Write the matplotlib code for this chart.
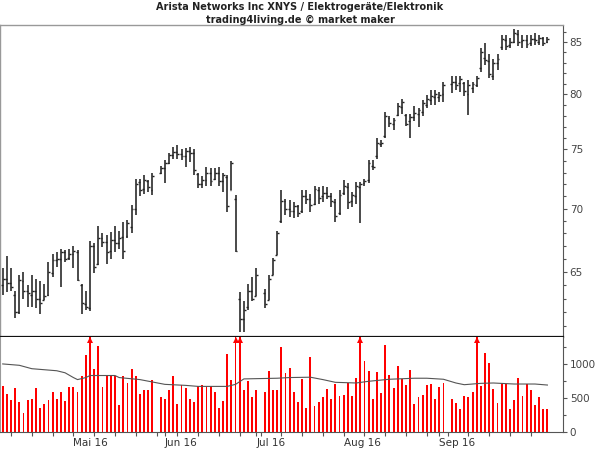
import numpy as np
import pandas as pd
import matplotlib
matplotlib.use('Agg')
import matplotlib.pyplot as plt
from matplotlib.ticker import FixedLocator, NullFormatter

# trading days (weekdays without US holidays)
first_day = '2016-04-07'
last_day = '2016-10-07'
holidays = ['2016-05-30', '2016-07-04', '2016-09-05']

highs = [65.3, 66.2, 65.3, 63.6, 64.8, 65.0, 64.0, 64.8, 64.5, 64.3, 64.1, 65.8, 66.4, 66.5, 66.8, 66.7,
         66.8, 67.0, 66.7, 64.1, 63.6, 67.4, 67.2, 68.6, 68.0, 67.9, 68.1, 68.6, 68.2, 68.9, 69.1, 70.3,
         72.5, 72.5, 72.8, 72.4, 73.0,
         73.6, 74.1, 74.7, 75.2, 75.4, 75.0, 75.1, 75.2, 75.0, 73.0, 72.7, 73.5, 73.4, 73.4, 73.5, 73.0,
         72.8, 74.0, 71.1, 63.5, 62.8, 64.1, 64.6, 65.3,
         63.7, 64.8, 66.1, 68.2, 71.5, 70.8, 70.7, 70.5, 70.3, 71.5, 71.5, 71.2, 71.9, 71.8, 71.9, 71.8,
         71.3, 70.8, 71.5, 72.4, 72.1, 71.4, 72.2, 72.2, 72.5, 74.1, 74.1, 76.0, 75.8, 78.4, 78.0, 77.8,
         79.2, 79.6, 78.2, 78.2, 78.9, 78.7, 79.5, 79.9, 80.4, 80.4, 80.2, 81.2,
         81.7, 81.7, 81.7, 81.2, 81.3, 81.2, 81.7, 84.4, 84.9, 83.9, 83.4, 83.9, 85.7, 85.7, 85.4, 86.3,
         86.2, 85.7, 85.7, 85.7, 85.9, 85.7, 85.5, 85.5]
lows = [63.3, 63.5, 63.6, 61.6, 61.9, 63.0, 62.4, 62.4, 62.3, 61.9, 62.9, 63.2, 64.6, 65.4, 63.9, 65.8,
        65.9, 65.3, 64.3, 61.9, 62.2, 62.1, 64.9, 65.5, 66.9, 65.6, 66.0, 66.5, 66.8, 66.0, 67.6, 68.0,
        69.5, 71.0, 71.2, 71.4, 71.1,
        72.9, 72.1, 73.7, 74.2, 74.2, 74.1, 73.5, 73.9, 72.8, 71.7, 71.7, 71.9, 71.9, 72.4, 71.9, 71.4,
        69.7, 71.5, 66.5, 60.6, 60.6, 62.2, 62.8, 63.2,
        62.3, 62.9, 64.8, 66.3, 68.8, 69.5, 69.3, 69.2, 69.3, 69.6, 70.4, 69.7, 70.3, 70.4, 70.5, 70.8,
        70.1, 68.9, 69.5, 71.1, 70.0, 70.1, 70.4, 68.8, 71.9, 72.1, 73.2, 74.2, 75.2, 76.0, 77.0, 76.7,
        78.0, 78.2, 77.1, 76.0, 77.5, 77.0, 78.0, 78.7, 79.0, 79.0, 79.3, 79.3,
        80.1, 80.4, 80.2, 79.8, 78.1, 80.1, 80.7, 82.1, 82.8, 81.5, 81.3, 82.3, 84.2, 84.2, 84.4, 84.9,
        84.6, 84.4, 84.4, 84.6, 84.7, 84.7, 84.6, 84.9]
opens = [64.0, 64.5, 64.2, 63.3, 62.0, 64.3, 63.6, 63.3, 63.6, 63.0, 62.9, 63.3, 64.9, 65.9, 66.0, 66.5,
         66.1, 66.4, 66.5, 64.0, 62.6, 62.3, 67.0, 65.6, 67.6, 67.3, 66.6, 67.5, 67.2, 67.7, 67.8, 68.5,
         70.0, 72.2, 71.6, 72.3, 71.5,
         73.0, 73.4, 73.8, 74.5, 74.8, 74.6, 74.4, 74.9, 74.7, 72.9, 72.0, 72.4, 73.0, 72.5, 73.0, 72.3,
         72.6, 71.5, 70.8, 63.0, 61.5, 62.4, 63.6, 63.2,
         63.4, 62.9, 64.8, 66.3, 69.0, 70.6, 70.0, 69.8, 70.2, 69.8, 71.0, 70.8, 70.4, 71.5, 71.0, 71.3,
         71.0, 70.5, 69.6, 71.3, 71.8, 70.6, 71.0, 71.8, 72.1, 72.4, 73.6, 74.4, 75.5, 76.2, 77.8, 77.3,
         78.1, 78.8, 78.1, 77.5, 77.9, 78.2, 78.4, 79.0, 79.5, 79.7, 79.7, 80.0,
         81.0, 81.2, 81.1, 81.1, 80.0, 80.6, 80.9, 82.5, 83.5, 83.2, 81.7, 83.0, 84.5, 85.2, 84.7, 85.0,
         85.8, 85.1, 85.2, 84.9, 85.3, 85.0, 85.4, 85.0]
closes = [64.5, 64.2, 63.9, 62.0, 64.4, 63.6, 63.4, 63.6, 63.0, 62.7, 63.2, 65.0, 65.9, 66.0, 66.5, 66.0,
          66.4, 66.6, 64.4, 62.7, 62.4, 67.0, 65.4, 67.6, 67.3, 66.5, 67.5, 67.2, 67.6, 66.6, 68.8, 70.0,
          72.0, 71.5, 72.4, 71.8, 72.7,
          73.4, 73.8, 74.5, 74.8, 74.6, 74.4, 74.9, 74.7, 73.2, 72.0, 72.4, 73.0, 72.3, 73.0, 72.3, 72.8,
          70.2, 73.8, 66.6, 61.5, 62.2, 63.6, 63.0, 64.8,
          62.6, 64.5, 65.9, 68.0, 70.6, 70.0, 69.8, 70.2, 69.6, 71.0, 70.8, 70.3, 71.6, 70.9, 71.3, 71.0,
          70.6, 69.4, 71.1, 71.9, 70.5, 71.1, 71.9, 72.0, 72.3, 73.8, 73.5, 75.6, 75.6, 78.0, 77.4, 77.6,
          78.9, 79.3, 77.3, 77.9, 78.3, 78.5, 79.2, 79.6, 79.8, 80.0, 79.9, 80.9,
          81.2, 80.9, 81.4, 80.3, 80.9, 81.0, 81.5, 84.0, 83.3, 81.9, 83.0, 83.4, 85.3, 84.6, 85.0, 85.9,
          85.0, 85.2, 84.8, 85.3, 85.2, 85.4, 84.9, 85.3]
volumes = [669, 556, 467, 644, 448, 276, 467, 482, 644, 349, 413, 467, 595, 482, 595, 458,
           664, 664, 590, 827, 1137, 1600, 925, 1260, 664, 827, 827, 817, 399, 817, 713, 925,
           817, 561, 615, 615, 767,
           521, 492, 615, 827, 413, 684, 644, 482, 448, 669, 694, 669, 669, 581, 349, 458,
           1151, 758, 2500, 2200, 615, 743, 507, 615,
           585, 891, 620, 620, 1245, 866, 940, 595, 448, 777, 359, 1097, 389, 443, 512, 635,
           487, 708, 536, 546, 718, 531, 792, 1700, 1048, 900, 482, 886, 571, 1284, 841, 644,
           974, 782, 689, 910, 408, 521, 546, 689, 708, 487, 664, 718,
           487, 433, 339, 531, 517, 595, 1650, 679, 1161, 1018, 635, 433, 708, 708, 335, 467,
           792, 531, 708, 620, 399, 521, 344, 335]

# moving average of volume, read at a few days
ma_days = ['2016-04-07', '2016-04-13', '2016-04-18', '2016-04-26', '2016-04-28', '2016-05-02',
           '2016-05-03', '2016-05-05', '2016-05-06', '2016-05-16', '2016-05-17', '2016-05-24',
           '2016-06-01', '2016-06-08', '2016-06-13', '2016-06-22', '2016-06-24', '2016-06-28',
           '2016-07-08', '2016-07-13', '2016-07-20', '2016-07-25', '2016-07-28', '2016-08-04',
           '2016-08-09', '2016-08-16', '2016-08-24', '2016-08-29', '2016-09-02', '2016-09-07',
           '2016-09-09', '2016-09-15', '2016-09-20', '2016-09-27', '2016-10-04', '2016-10-07']
ma_vals = [1000, 980, 930, 900, 870, 800, 770, 800, 830, 830, 800, 770, 700, 685, 670, 670, 700,
           780, 790, 800, 805, 770, 730, 720, 745, 775, 790, 790, 775, 720, 695, 715, 720, 705, 705, 690]

month_starts = ['2016-05-02', '2016-06-01', '2016-07-01', '2016-08-01', '2016-09-01']
month_labels = ['Mai 16', 'Jun 16', 'Jul 16', 'Aug 16', 'Sep 16']

title1 = 'Arista Networks Inc XNYS / Elektrogeräte/Elektronik'
title2 = 'trading4living.de © market maker'

all_days = pd.bdate_range(first_day, last_day)
trade_days = all_days.drop(pd.to_datetime(holidays))
x = all_days.get_indexer(trade_days).astype(float)
x_ma = all_days.get_indexer(pd.to_datetime(ma_days))
x_month = all_days.get_indexer(pd.to_datetime(month_starts))
x_monday = np.where(all_days.weekday == 0)[0]

highs = np.array(highs); lows = np.array(lows)
opens = np.array(opens); closes = np.array(closes)
volumes = np.array(volumes)

fig = plt.figure(figsize=(6, 4.5), dpi=100)
ax = fig.add_axes([0.0, 0.2522, 0.938, 0.6922])
axv = fig.add_axes([0.0, 0.04, 0.938, 0.2122])

bar_col = '#222222'
ax.vlines(x, lows, highs, color=bar_col, lw=1.15)
ax.hlines(opens, x - 0.45, x, color=bar_col, lw=1.0)
ax.hlines(closes, x, x + 0.45, color=bar_col, lw=1.0)

xlim = (-0.65, 134.7)
ax.set_xlim(xlim)
ax.set_yscale('log')
ax.set_ylim(60.28, 86.74)
ax.yaxis.set_major_locator(FixedLocator([65, 70, 75, 80, 85]))
ax.yaxis.set_minor_locator(FixedLocator(list(range(61, 87))))
ax.yaxis.set_major_formatter(plt.FuncFormatter(lambda v, p: '%d' % v))
ax.yaxis.set_minor_formatter(NullFormatter())
ax.yaxis.tick_right()
ax.tick_params(axis='y', which='major', length=3, width=0.8, color='#555555',
               labelsize=7.5, labelcolor='#444444', pad=2)
ax.tick_params(axis='y', which='minor', length=2, width=0.8, color='#555555')
ax.set_xticks([])

for s in ['top', 'left']:
    ax.spines[s].set_color('#999999')
    ax.spines[s].set_linewidth(1.0)
ax.spines['right'].set_color('#555555')
ax.spines['right'].set_linewidth(0.8)
ax.spines['bottom'].set_color('#111111')
ax.spines['bottom'].set_linewidth(1.6)

# volume panel
vtop = 1403
axv.bar(x, volumes, width=0.45, color='#ff0000', linewidth=0, antialiased=False)
clipped = volumes > vtop
axv.plot(x[clipped], np.full(clipped.sum(), vtop - 55), '^', color='#ff0000',
         markersize=4.5, markeredgewidth=0, clip_on=False)
axv.plot(x_ma, ma_vals, color='#555555', lw=0.8)
axv.set_xlim(xlim)
axv.set_ylim(0, vtop)
axv.yaxis.tick_right()
axv.yaxis.set_major_locator(FixedLocator([0, 500, 1000]))
axv.yaxis.set_minor_locator(FixedLocator([250, 750, 1250]))
axv.tick_params(axis='y', which='major', length=3, width=0.8, color='#555555',
                labelsize=7.5, labelcolor='#444444', pad=2)
axv.tick_params(axis='y', which='minor', length=2, width=0.8, color='#555555')

axv.xaxis.set_major_locator(FixedLocator(x_month))
axv.xaxis.set_minor_locator(FixedLocator(x_monday))
axv.set_xticklabels(month_labels, ha='left')
axv.tick_params(axis='x', which='both', length=3, width=0.8, color='#555555',
                labelsize=7.5, labelcolor='#333333', pad=1.5)
axv.spines['top'].set_visible(False)
axv.spines['left'].set_color('#999999')
axv.spines['right'].set_color('#555555')
axv.spines['right'].set_linewidth(0.8)
axv.spines['bottom'].set_color('#555555')
axv.spines['bottom'].set_linewidth(0.8)

fig.text(0.5, 1 - 7.5 / 450, title1, ha='center', va='center', fontsize=7.0,
         fontweight='bold', color='#222222')
fig.text(0.5, 1 - 19.5 / 450, title2, ha='center', va='center', fontsize=7.0,
         fontweight='bold', color='#222222')

fig.savefig('out.png', dpi=100)
